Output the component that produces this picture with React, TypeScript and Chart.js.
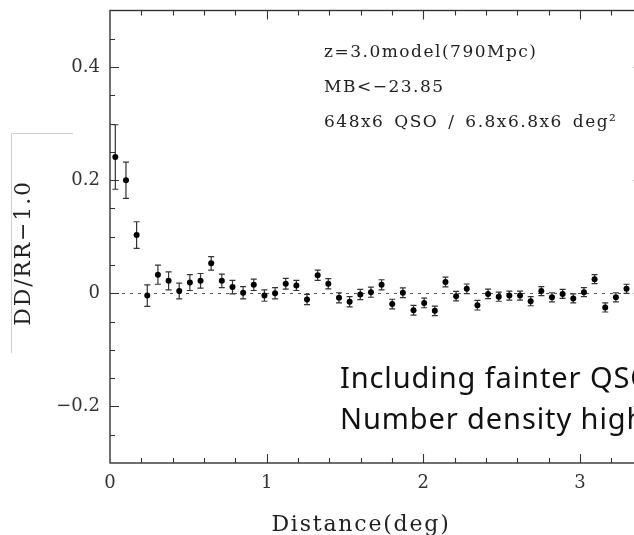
import React, { useEffect, useRef } from "react";
import { Chart, registerables } from "chart.js";

Chart.register(...registerables);

// ---- data ----
const distanceDeg = [
  0.034, 0.102, 0.170, 0.238, 0.306, 0.374, 0.442, 0.510, 0.578, 0.646,
  0.714, 0.782, 0.850, 0.918, 0.986, 1.054, 1.122, 1.190, 1.258, 1.326,
  1.394, 1.462, 1.530, 1.598, 1.666, 1.734, 1.802, 1.870, 1.938, 2.006,
  2.074, 2.142, 2.210, 2.278, 2.346, 2.414, 2.482, 2.550, 2.618, 2.686,
  2.754, 2.822, 2.890, 2.958, 3.026, 3.094, 3.162, 3.230, 3.298,
];
const ddrrMinusOne = [
  0.241, 0.200, 0.103, -0.004, 0.033, 0.022, 0.004, 0.019, 0.022, 0.053,
  0.022, 0.011, 0.001, 0.015, -0.004, 0.000, 0.017, 0.014, -0.011, 0.032,
  0.017, -0.008, -0.015, -0.002, 0.002, 0.015, -0.019, 0.001, -0.030, -0.017,
  -0.031, 0.020, -0.005, 0.008, -0.021, -0.001, -0.006, -0.004, -0.004, -0.014,
  0.004, -0.007, -0.001, -0.009, 0.002, 0.025, -0.025, -0.007, 0.008,
];
const errorBars = [
  0.057, 0.032, 0.0235, 0.019, 0.017, 0.016, 0.014, 0.014, 0.013, 0.012,
  0.012, 0.012, 0.011, 0.010, 0.010, 0.010, 0.0095, 0.009, 0.009, 0.009,
  0.009, 0.009, 0.009, 0.009, 0.009, 0.009, 0.0085, 0.0085, 0.0085, 0.0085,
  0.0085, 0.0085, 0.0085, 0.0085, 0.0085, 0.0085, 0.008, 0.008, 0.008, 0.008,
  0.008, 0.008, 0.008, 0.008, 0.008, 0.008, 0.008, 0.008, 0.008,
];
const yLabelValues = [-0.2, 0, 0.2, 0.4];
const xLabelValues = [0, 1, 2, 3];
const xTitle = "Distance(deg)";
const yTitle = "DD/RR\u22121.0";
const annotationLines = [
  "z=3.0model(790Mpc)",
  "MB<\u221223.85",
  "648x6 QSO / 6.8x6.8x6 deg\u00B2",
];
const noteLines = ["Including fainter QSOs", "Number density higher"];

const SERIF = "'DejaVu Serif', serif";

function fmtY(v: number) {
  if (Math.abs(v) < 1e-9) return "0";
  return (v < 0 ? "\u2212" : "") + Math.abs(v).toFixed(1);
}

const framePlugin = {
  id: "smFrame",
  beforeDatasetsDraw(chart: any) {
    const { ctx, chartArea, scales } = chart;
    const { left, right, top, bottom } = chartArea;
    const x = scales.x;
    const y = scales.y;
    ctx.save();
    ctx.beginPath();
    ctx.rect(left, top, right - left, bottom - top);
    ctx.clip();
    // dotted zero line
    const y0 = Math.round(y.getPixelForValue(0)) + 0.5;
    ctx.setLineDash([3, 5]);
    ctx.strokeStyle = "#555";
    ctx.lineWidth = 1;
    ctx.beginPath();
    ctx.moveTo(left + 4, y0);
    ctx.lineTo(right, y0);
    ctx.stroke();
    ctx.setLineDash([]);
    // error bars
    ctx.strokeStyle = "#333";
    ctx.lineWidth = 1.2;
    distanceDeg.forEach((d, i) => {
      const px = x.getPixelForValue(d);
      const v = ddrrMinusOne[i];
      const e = errorBars[i];
      const yt = y.getPixelForValue(v + e);
      const yb = y.getPixelForValue(v - e);
      ctx.beginPath();
      ctx.moveTo(px, yt);
      ctx.lineTo(px, yb);
      ctx.moveTo(px - 3, yt);
      ctx.lineTo(px + 3, yt);
      ctx.moveTo(px - 3, yb);
      ctx.lineTo(px + 3, yb);
      ctx.stroke();
    });
    ctx.restore();
  },
  afterDraw(chart: any) {
    const { ctx, chartArea, scales } = chart;
    const { left, right, top, bottom } = chartArea;
    const x = scales.x;
    const y = scales.y;
    ctx.save();
    // frame
    ctx.strokeStyle = "#333";
    ctx.lineWidth = 1.4;
    ctx.strokeRect(left, top, right - left, bottom - top);
    // ticks (inward, SuperMongo style)
    ctx.lineWidth = 1.1;
    ctx.beginPath();
    y.ticks.forEach((t: any) => {
      const v = t.value;
      const k = Math.round(v / 0.2);
      const major = Math.abs(v - k * 0.2) < 1e-6;
      const len = major ? 9 : 5;
      const py = Math.round(y.getPixelForValue(v)) + 0.5;
      if (py <= top + 1 || py >= bottom - 1) return;
      ctx.moveTo(left, py);
      ctx.lineTo(left + len, py);
      ctx.moveTo(right, py);
      ctx.lineTo(right - len, py);
    });
    x.ticks.forEach((t: any) => {
      const v = t.value;
      const major = Math.abs(v - Math.round(v)) < 1e-6;
      const len = major ? 9 : 5;
      const px = Math.round(x.getPixelForValue(v)) + 0.5;
      if (px <= left + 1 || px >= right - 1) return;
      ctx.moveTo(px, bottom);
      ctx.lineTo(px, bottom - len);
      ctx.moveTo(px, top);
      ctx.lineTo(px, top + len);
    });
    ctx.stroke();

    // axis titles
    ctx.fillStyle = "#222";
    ctx.font = `22px ${SERIF}`;
    (ctx as any).letterSpacing = "1.8px";
    ctx.textAlign = "center";
    ctx.textBaseline = "alphabetic";
    ctx.fillText(xTitle, 361, 531);
    ctx.save();
    ctx.translate(30, 253);
    ctx.rotate(-Math.PI / 2);
    ctx.fillText(yTitle, 0, 0);
    ctx.restore();

    // annotation (top right)
    ctx.font = `17px ${SERIF}`;
    (ctx as any).letterSpacing = "1.5px";
    (ctx as any).wordSpacing = "3px";
    ctx.textAlign = "left";
    annotationLines.forEach((s, i) => {
      ctx.fillText(s, 324, 57 + i * 35);
    });
    (ctx as any).wordSpacing = "0px";

    // overlaid note
    ctx.fillStyle = "#111";
    ctx.font = `29px 'Noto Sans', sans-serif`;
    (ctx as any).letterSpacing = "0.9px";
    noteLines.forEach((s, i) => {
      ctx.fillText(s, 340, 388 + i * 40.5);
    });
    (ctx as any).letterSpacing = "0px";

    // light grey box fragment at the left
    ctx.strokeStyle = "#cfcfcf";
    ctx.lineWidth = 1;
    ctx.beginPath();
    ctx.moveTo(73, 133.5);
    ctx.lineTo(11.5, 133.5);
    ctx.lineTo(11.5, 353);
    ctx.stroke();
    ctx.restore();
  },
};

export default function App() {
  const ref = useRef<HTMLCanvasElement | null>(null);
  useEffect(() => {
    if (!ref.current) return;
    const chart = new Chart(ref.current, {
      type: "scatter",
      data: {
        datasets: [
          {
            label: "DD/RR-1.0",
            data: distanceDeg.map((d, i) => ({ x: d, y: ddrrMinusOne[i] })),
            pointRadius: 3,
            pointHoverRadius: 3,
            pointBackgroundColor: "#000",
            pointBorderColor: "#000",
            pointBorderWidth: 0,
            showLine: false,
          },
        ],
      },
      options: {
        responsive: false,
        animation: false,
        events: [],
        layout: { autoPadding: false, padding: { left: 0, top: 10.5, right: 17.5, bottom: 0 } },
        plugins: { legend: { display: false }, tooltip: { enabled: false } },
        scales: {
          x: {
            type: "linear",
            min: 0,
            max: 3.4,
            grid: { display: false, drawTicks: false },
            border: { display: false },
            afterFit: (s: any) => {
              s.height = 72;
              s.paddingLeft = 0;
              s.paddingRight = 0;
            },
            ticks: {
              stepSize: 0.2,
              autoSkip: false,
              maxRotation: 0,
              padding: 9.5,
              color: "#333",
              font: { family: SERIF, size: 18 },
              callback: (val: any) => {
                const v = Number(val);
                const hit = xLabelValues.find((l) => Math.abs(l - v) < 1e-6);
                return hit === undefined ? "" : String(hit);
              },
            },
          },
          y: {
            type: "linear",
            min: -0.3,
            max: 0.5,
            grid: { display: false, drawTicks: false },
            border: { display: false },
            afterFit: (s: any) => {
              s.width = 110;
              s.paddingTop = 0;
              s.paddingBottom = 0;
            },
            ticks: {
              stepSize: 0.05,
              autoSkip: false,
              padding: 10,
              color: "#333",
              font: { family: SERIF, size: 18 },
              callback: (val: any) => {
                const v = Number(val);
                const hit = yLabelValues.find((l) => Math.abs(l - v) < 1e-6);
                return hit === undefined ? "" : fmtY(hit);
              },
            },
          },
        },
      },
      plugins: [framePlugin],
    } as any);
    return () => chart.destroy();
  }, []);
  return (
    <div
      style={{
        position: "fixed",
        left: 0,
        top: 0,
        width: 634,
        height: 535,
        overflow: "hidden",
        background: "#fff",
      }}
    >
      <canvas ref={ref} width={660} height={535} style={{ display: "block" }} />
    </div>
  );
}
